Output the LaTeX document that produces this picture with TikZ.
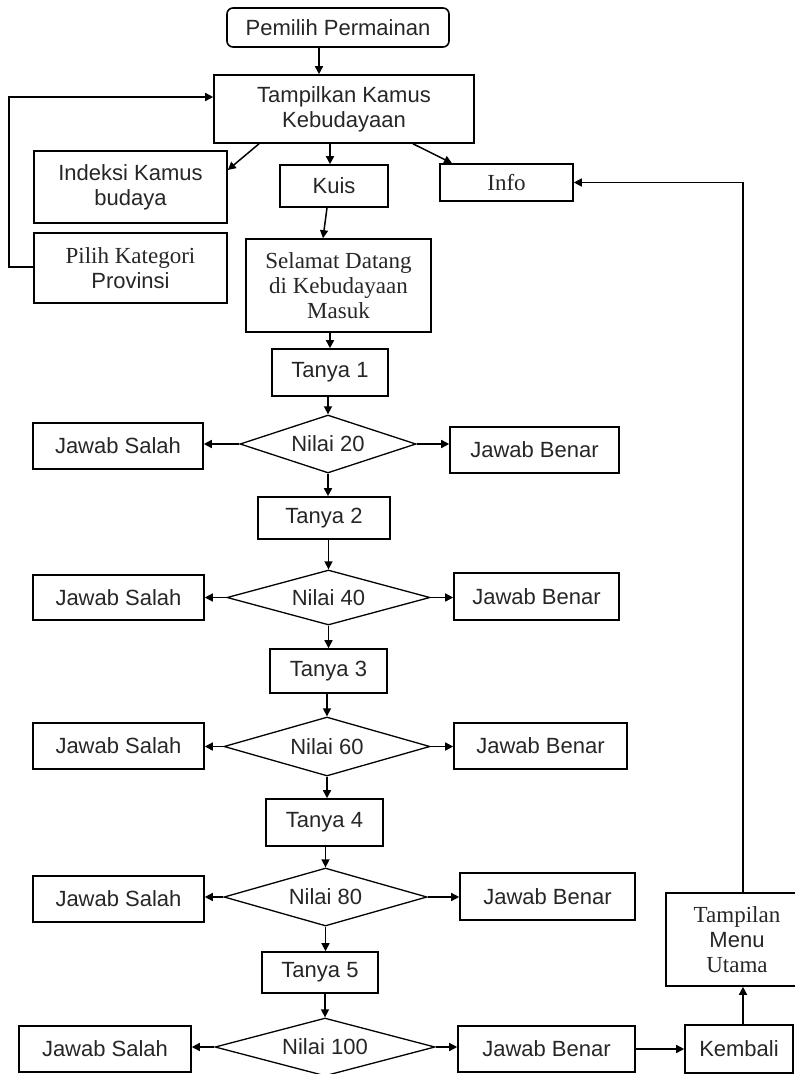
\documentclass[tikz,border=0pt]{standalone}
\usepackage{fontspec}
\setmainfont{Liberation Serif}
\setsansfont{Liberation Sans}
\usetikzlibrary{shapes.geometric,arrows.meta}
\newcommand\SansT{\sffamily\fontsize{22}{25}\selectfont}
\newcommand\SerT{\rmfamily\fontsize{23}{25}\selectfont}
\begin{document}
\begin{tikzpicture}[x=1pt,y=-1pt,
  box/.style={draw, line width=1.6pt, inner sep=0pt, align=center, font=\SansT, text=black!85},
  dia/.style={draw, shape=diamond, line width=1.3pt, inner sep=0pt},
  lbl/.style={font=\SansT, text=black!85, inner sep=0pt},
  arr/.style={line width=1.5pt, -{Triangle[length=8pt,width=8pt]}}
]
\useasboundingbox (0,0) rectangle (795,1074);

% top part
\node[box, rounded corners=6pt, minimum width=222pt, minimum height=39pt] (pem) at (338,27.5) {Pemilih Permainan};
\node[box, minimum width=260pt, minimum height=68pt] (tamp) at (344,109) {Tampilkan Kamus\\Kebudayaan};
\node[box, minimum width=193pt, minimum height=72pt] (idx) at (130.5,187) {Indeksi Kamus\\budaya};
\node[box, minimum width=193pt, minimum height=70pt] (pilih) at (130.5,268) {{\SerT Pilih Kategori}\\Provinsi};
\node[box, minimum width=108pt, minimum height=42pt] (kuis) at (334,186) {Kuis};
\node[box, minimum width=133pt, minimum height=37pt, font=\SerT] (info) at (506.5,182.5) {Info};
\node[box, minimum width=185pt, minimum height=93pt, font=\SerT] (sel) at (338.5,285.5) {Selamat Datang\\di Kebudayaan\\Masuk};

% question chain
\node[box, minimum width=116pt, minimum height=47pt] (t1) at (330,372.5) {Tanya 1};
\node[dia, minimum width=176pt, minimum height=58pt, label={[lbl]center:Nilai 20}] (d1) at (328,444) {};
\node[box, minimum width=170pt, minimum height=46pt] (s1) at (118,446) {Jawab Salah};
\node[box, minimum width=169pt, minimum height=46pt] (b1) at (534.5,450) {Jawab Benar};

\node[box, minimum width=132pt, minimum height=42pt] (t2) at (324,518) {Tanya 2};
\node[dia, minimum width=203pt, minimum height=55pt, label={[lbl]center:Nilai 40}] (d2) at (328.5,597.5) {};
\node[box, minimum width=171pt, minimum height=45pt] (s2) at (118.5,597.5) {Jawab Salah};
\node[box, minimum width=165pt, minimum height=47pt] (b2) at (536.5,596.5) {Jawab Benar};

\node[box, minimum width=117pt, minimum height=44pt] (t3) at (328.5,671) {Tanya 3};
\node[dia, minimum width=206pt, minimum height=59pt, label={[lbl]center:Nilai 60}] (d3) at (327,746.5) {};
\node[box, minimum width=171pt, minimum height=46pt] (s3) at (118.5,746) {Jawab Salah};
\node[box, minimum width=173pt, minimum height=46pt] (b3) at (540.5,746) {Jawab Benar};

\node[box, minimum width=117pt, minimum height=47pt] (t4) at (324.5,822.5) {Tanya 4};
\node[dia, minimum width=203pt, minimum height=58pt, label={[lbl]center:Nilai 80}] (d4) at (325.5,897) {};
\node[box, minimum width=171pt, minimum height=46pt] (s4) at (118.5,899) {Jawab Salah};
\node[box, minimum width=175pt, minimum height=47pt] (b4) at (547.5,896.5) {Jawab Benar};

\node[box, minimum width=116pt, minimum height=41pt] (t5) at (320,972.5) {Tanya 5};
\node[dia, minimum width=220pt, minimum height=58pt, label={[lbl]center:Nilai 100}] (d5) at (325,1047) {};
\node[box, minimum width=172pt, minimum height=46pt] (s5) at (105,1049) {Jawab Salah};
\node[box, minimum width=177pt, minimum height=46pt] (b5) at (546.5,1049) {Jawab Benar};

\node[box, minimum width=108pt, minimum height=48pt] (kem) at (739,1049) {Kembali};
\node[box, minimum width=142pt, minimum height=93pt] (menu) at (737,939.5) {{\SerT Tampilan}\\Menu\\{\SerT Utama}};

\coordinate (cx) at (743,0);

% connectors
\draw[arr] ([xshift=-19pt]pem.south) -- ([xshift=-25pt]tamp.north);
\draw[arr] ([xshift=-85pt]tamp.south) -- ([yshift=17pt]idx.east);
\draw[arr] ([xshift=-14pt]tamp.south) -- ([xshift=-4pt]kuis.north);
\draw[arr] ([xshift=69pt]tamp.south) -- ([xshift=-54.5pt]info.north);
\draw[arr] ([xshift=-7pt]kuis.south) -- ([xshift=-15.5pt]sel.north);
\draw[arr] ([yshift=1pt]pilih.west) -- ++(-24,0) |- ([yshift=12pt]tamp.west);

\draw[arr] (sel.south -| t1.north) -- (t1.north);
\draw[arr] (t1.south -| d1.north) -- (d1.north);
\draw[arr] (d1.south) -- (d1.south |- t2.north);
\draw[arr] (t2.south -| d2.north) -- (d2.north);
\draw[arr] (d2.south) -- (d2.south |- t3.north);
\draw[arr] (t3.south -| d3.north) -- (d3.north);
\draw[arr] (d3.south) -- (d3.south |- t4.north);
\draw[arr] (t4.south -| d4.north) -- (d4.north);
\draw[arr] (d4.south) -- (d4.south |- t5.north);
\draw[arr] (t5.south -| d5.north) -- (d5.north);

\foreach \i in {1,...,5}{
  \draw[arr] (d\i.west) -- (s\i.east |- d\i.west);
  \draw[arr] (d\i.east) -- (b\i.west |- d\i.east);
}
\draw[arr] (b5.east) -- (kem.west |- b5.east);
\draw[arr] (kem.north -| cx) -- (menu.south -| cx);
\draw[arr] (menu.north -| cx) |- (info.east);
\end{tikzpicture}
\end{document}
